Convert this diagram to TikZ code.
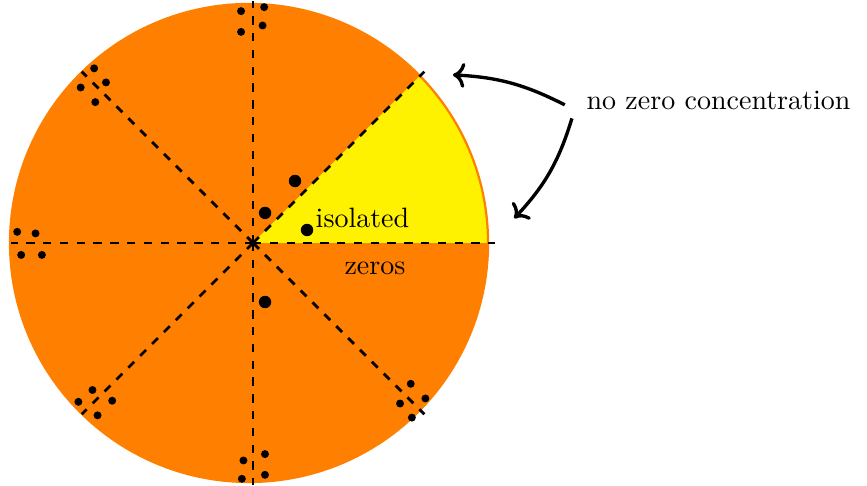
\documentclass[tikz,border=0pt]{standalone}
\usepackage{xcolor}
\usepackage{tikz}
\usetikzlibrary{arrows.meta,positioning}

\begin{document}
\begin{tikzpicture}[
  ray/.style={dashed, line width=1pt},
  arr/.style={->, very thick},
  lab/.style={inner sep=0pt}
]
  \useasboundingbox (-3.176,-3.05) rectangle (7.707,3.05);
  % disc and the zero-free sector
  \fill[orange] (-0.05,0) circle (3);
  \begin{scope}
    \clip (-0.05,0) circle (3);
    \fill[yellow] (0,0) -- (4,0) -- (4,4) -- cycle;
  \end{scope}
  \draw[orange, thick] (-0.05,0) circle (3);

  \foreach \a in {0,45,...,315}
    \draw[ray] (0,0) -- (\a:3.04);

  % zeros close to the rays
  \foreach \a in {90,135,...,315}
    \foreach \s/\p in {2.91/0.15, 2.65/0.15, 2.96/-0.14, 2.73/-0.12}
      \fill[rotate=\a] (\s,\p) circle (0.05);

  % isolated zeros
  \foreach \p in {(0.527,0.778),(0.151,0.377),(0.678,0.163),(0.151,-0.741)}
    \fill \p circle (0.078);

  \node[lab, anchor=base west] (iso) at (0.78,0.20) {isolated};
  \node[lab, anchor=base west] (zer) at (1.142,-0.40) {zeros};
  \node[anchor=base west] (conc) at (4.063,1.67) {no zero concentration};

  \coordinate (tipA) at (2.51,2.11);
  \coordinate (tipB) at (3.28,0.31);
  \draw[arr] ([xshift=-1.5mm,yshift=-0.5mm]conc.west) to[bend right=12] (tipA);
  \draw[arr] ([xshift=-0.6mm,yshift=-2.2mm]conc.west) to[bend left=13] (tipB);
\end{tikzpicture}
\end{document}
